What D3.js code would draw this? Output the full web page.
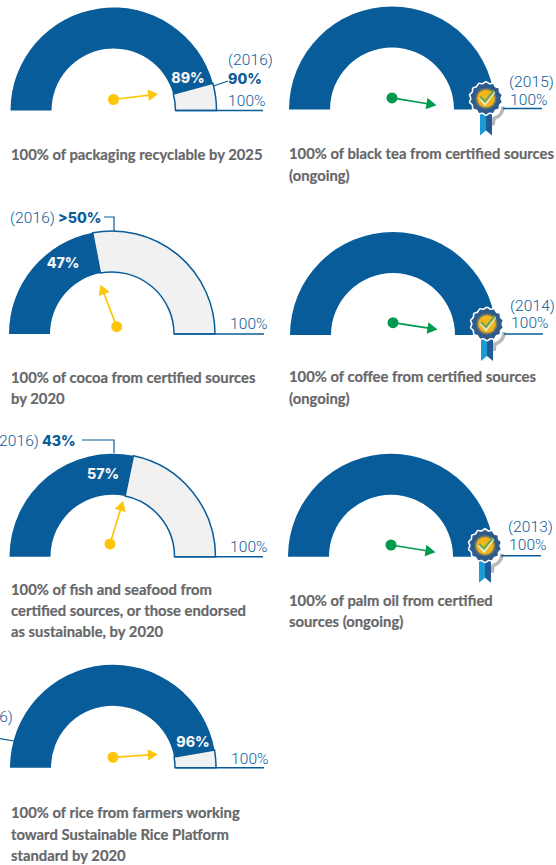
<!DOCTYPE html>
<html>
<head>
<meta charset="utf-8">
<script src="https://cdn.jsdelivr.net/npm/d3@7"></script>
<style>
  html, body { margin: 0; padding: 0; background: #fff; overflow: hidden; }
  .goal { font-family: Lato, sans-serif; font-weight: 700; font-size: 14.8px; fill: #66676a; stroke: #66676a; stroke-width: 0.2px; }
  .lab { font-family: Roboto, sans-serif; font-weight: 300; font-size: 15.5px; fill: #0b5c99; letter-spacing: 0.1px; }
  .lab-b { font-family: Inter, sans-serif; font-weight: 800; font-size: 14.2px; fill: #0b5c99; }
  .pct { font-family: Inter, sans-serif; font-weight: 800; font-size: 14.2px; fill: #f4f4f4; text-anchor: middle; }
</style>
</head>
<body>
<div id="chart"></div>
<script>
const goals = [
  ['100% of packaging recyclable by 2025'],
  ['100% of black tea from certified sources', '(ongoing)'],
  ['100% of cocoa from certified sources', 'by 2020'],
  ['100% of coffee from certified sources', '(ongoing)'],
  ['100% of fish and seafood from', 'certified sources, or those endorsed', 'as sustainable, by 2020'],
  ['100% of palm oil from certified', 'sources (ongoing)'],
  ['100% of rice from farmers working', 'toward Sustainable Rice Platform', 'standard by 2020']
];
// printed on the gauge, null = goal reached
const printedPct = ['89%', null, '47%', null, '57%', null, '96%'];
// share of the arc as drawn (not quite the printed number in the source)
const arcShare = [91.5, 100, 44, 100, 56.5, 100, 94.5];
const baseYears = ['(2016)', '(2015)', '(2016)', '(2014)', '(2016)', '(2013)', '(2016)'];
const baseValues = ['90%', null, '>50%', null, '43%', null, null];
const targetLabel = '100%';
// trend arrow direction, degrees above horizontal
const arrowAngle = [7, -9.3, 111, -8.8, 73, -9.2, 3.8];
const reached = [false, true, false, true, false, true, false];

// layout per gauge
const layout = [
  { cx: 113.5, cy: 110.5, hub: [0, -11], pct: [188, 78], capX: 11, capY: [160],
    year: [228, 65], val: [228, 84], target: [228, 106], rule: [176, 263], leader: [[213.5, 86], [228, 81]] },
  { cx: 392, cy: 109.5, hub: [0, -11.6], capX: 289, capY: [159, 181],
    year: [509, 87], target: [510, 105], rule: [503, 542] },
  { cx: 112, cy: 334, hub: [4.7, -7.3], pct: [63, 263], capX: 11, capY: [383, 404],
    year: [10, 223], val: [58, 223], target: [230, 329], rule: [175, 264], leader: [[104, 217], [114, 217], [114, 231]] },
  { cx: 393, cy: 335, hub: [0, -12.3], capX: 289, capY: [382, 404],
    year: [510, 311], target: [511, 328], rule: [504, 543] },
  { cx: 112.5, cy: 556.7, hub: [-2.5, -12.7], pct: [103, 474], capX: 11, capY: [595, 616, 637],
    year: [-6, 446], val: [42, 446], target: [230, 552], rule: [175, 263], leader: [[82, 440], [114, 440], [114, 453]] },
  { cx: 391, cy: 556.7, hub: [0, -11.7], capX: 289, capY: [606, 627],
    year: [508, 532], target: [509, 550], rule: [501, 541] },
  { cx: 113, cy: 767.7, hub: [0, -10.4], pct: [193, 742], capX: 11, capY: [818, 840, 861],
    year: [-32, 722], target: [231, 764], rule: [176, 264], leader: [[-4, 738], [14, 741]] }
];

const width = 556, height = 865;
const outerR = 103, innerR = 62;
const blue = '#085c99', pale = '#f1f1f1', yellow = '#fdc60a', green = '#009a4e';

const angle = d3.scaleLinear().domain([0, 100]).range([-Math.PI / 2, Math.PI / 2]);
const arc = d3.arc().innerRadius(innerR).outerRadius(outerR);

const svg = d3.select('#chart').append('svg')
  .attr('width', width).attr('height', height)
  .style('display', 'block');

function drawBadge(g) {
  const scallop = d3.lineRadial().curve(d3.curveCardinalClosed);
  const pts = d3.range(28).map(i => [i * Math.PI / 14, i % 2 ? 15.2 : 16.8]);
  // grey swoosh behind
  g.append('path').attr('d', 'M17,8 Q17,17 8,20 L7,27')
    .attr('fill', 'none').attr('stroke', '#b8b8b8').attr('stroke-width', 3.5);
  // ribbon
  g.append('path').attr('d', 'M-6,14 L0,14 L0,32 L-6,37 Z').attr('fill', '#1c9ad6');
  g.append('path').attr('d', 'M0,14 L6,14 L6,37 L0,32 Z').attr('fill', '#1f5c96');
  g.append('path').attr('d', scallop(pts)).attr('fill', '#2f5b8c')
    .attr('stroke', '#fff').attr('stroke-width', 1.6);
  g.append('circle').attr('r', 10.5).attr('fill', '#7d7a5c');
  g.append('circle').attr('r', 8.8).attr('fill', '#f2b61c');
  g.append('path').attr('d', 'M-6,-1 L-1,5 L8,-7').attr('fill', 'none')
    .attr('stroke', '#e9edd8').attr('stroke-width', 3.2);
  g.append('path').attr('d', 'M-6,-2 L-1,3 L8,-8').attr('fill', 'none')
    .attr('stroke', '#6fa84a').attr('stroke-width', 2.2);
}

goals.forEach((lines, i) => {
  const l = layout[i];
  const g = svg.append('g');
  const c = g.append('g').attr('transform', `translate(${l.cx},${l.cy})`);
  const colour = reached[i] ? green : yellow;

  // baseline rule under the open end, out to the 100% label
  g.append('line')
    .attr('x1', l.rule[0]).attr('x2', l.rule[1])
    .attr('y1', l.cy - (reached[i] ? 1 : 0)).attr('y2', l.cy - (reached[i] ? 1 : 0))
    .attr('stroke', blue).attr('stroke-width', 1.6);

  // gap to target
  if (arcShare[i] < 100) {
    c.append('path')
      .attr('d', arc({ startAngle: angle(arcShare[i]), endAngle: angle(100) }))
      .attr('fill', pale).attr('stroke', blue).attr('stroke-width', 1.5);
  }
  // achieved part
  c.append('path')
    .attr('d', arc({ startAngle: angle(0), endAngle: angle(arcShare[i]) }))
    .attr('fill', blue);

  // leader from 2016 label to the arc
  if (l.leader) {
    g.append('path').attr('d', d3.line()(l.leader))
      .attr('fill', 'none').attr('stroke', blue).attr('stroke-width', 1.2);
  }

  // trend arrow
  const arrow = c.append('g')
    .attr('transform', `translate(${l.hub[0]},${l.hub[1]}) rotate(${-arrowAngle[i]})`);
  arrow.append('line').attr('x1', 0).attr('x2', 36).attr('y1', 0).attr('y2', 0)
    .attr('stroke', colour).attr('stroke-width', 1.7);
  arrow.append('path').attr('d', 'M35,-5.8 L45,0 L35,5.8 Z').attr('fill', colour);
  c.append('circle').attr('cx', l.hub[0]).attr('cy', l.hub[1]).attr('r', 5.5).attr('fill', colour);

  if (printedPct[i]) {
    g.append('text').attr('class', 'pct')
      .attr('x', l.pct[0]).attr('y', l.pct[1] + 5).text(printedPct[i]);
  }

  if (reached[i]) {
    drawBadge(c.append('g').attr('transform', 'translate(94,-11)'));
  }

  g.append('text').attr('class', 'lab').attr('x', l.year[0]).attr('y', l.year[1]).text(baseYears[i]);
  if (baseValues[i]) {
    g.append('text').attr('class', 'lab-b').attr('x', l.val[0]).attr('y', l.val[1]).text(baseValues[i]);
  }
  g.append('text').attr('class', 'lab').attr('x', l.target[0]).attr('y', l.target[1]).text(targetLabel);

  g.selectAll('text.goal').data(lines).enter().append('text')
    .attr('class', 'goal')
    .attr('x', l.capX)
    .attr('y', (d, k) => l.capY[k])
    .text(d => d);
});
</script>
</body>
</html>
